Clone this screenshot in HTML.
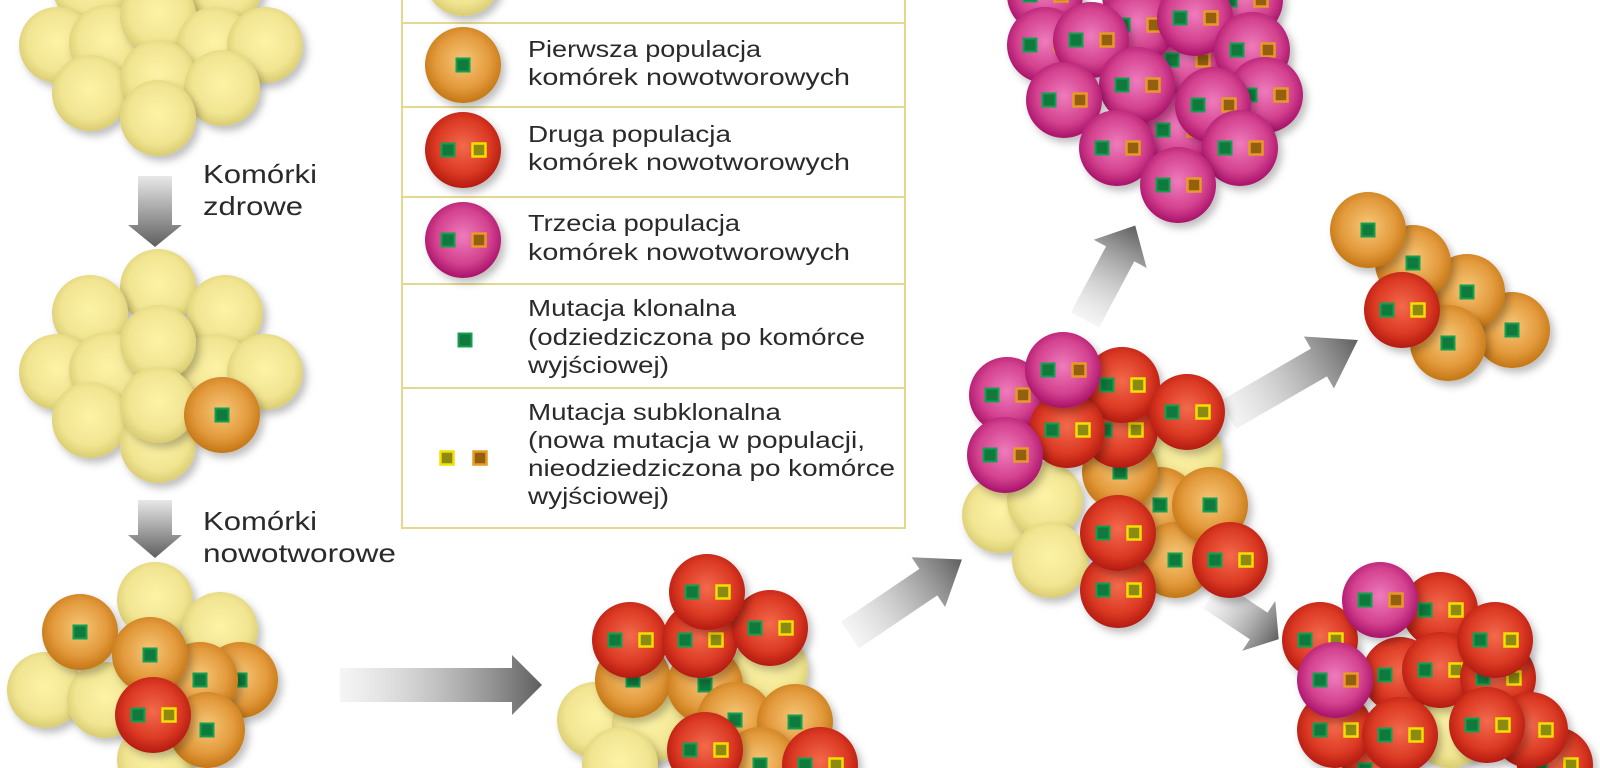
<!DOCTYPE html>
<html><head><meta charset="utf-8"><style>
html,body{margin:0;padding:0;background:#fff;width:1600px;height:768px;overflow:hidden;}
svg{display:block;}
text{font-family:"Liberation Sans",sans-serif;fill:#2a2a2a;}
</style></head><body>
<svg width="1600" height="768" viewBox="0 0 1600 768" xmlns="http://www.w3.org/2000/svg" style="overflow:hidden">
<defs>
<radialGradient id="gY" cx="0.5" cy="0.45" r="0.55"><stop offset="0" stop-color="#fdf3a6"/><stop offset="0.7" stop-color="#f1e592"/><stop offset="1" stop-color="#d9cc72"/></radialGradient>
<radialGradient id="gO" cx="0.5" cy="0.45" r="0.55"><stop offset="0" stop-color="#f7c778"/><stop offset="0.65" stop-color="#e39a3c"/><stop offset="1" stop-color="#c47615"/></radialGradient>
<radialGradient id="gR" cx="0.5" cy="0.45" r="0.55"><stop offset="0" stop-color="#f36a4c"/><stop offset="0.65" stop-color="#dc3a24"/><stop offset="1" stop-color="#b41b10"/></radialGradient>
<radialGradient id="gP" cx="0.5" cy="0.45" r="0.55"><stop offset="0" stop-color="#ee7cbc"/><stop offset="0.65" stop-color="#d4428f"/><stop offset="1" stop-color="#a8126a"/></radialGradient>
<linearGradient id="ga" x1="0" y1="0" x2="1" y2="0"><stop offset="0" stop-color="#e6e6e6" stop-opacity="0.4"/><stop offset="1" stop-color="#5e5e5e"/></linearGradient>
<linearGradient id="gv" x1="0" y1="0" x2="0" y2="1"><stop offset="0" stop-color="#e8e8e8"/><stop offset="1" stop-color="#5e5e5e"/></linearGradient>
<filter id="sh" x="-30%" y="-30%" width="170%" height="170%"><feDropShadow dx="4" dy="5" stdDeviation="4" flood-color="#000" flood-opacity="0.25"/></filter>
<g id="sG"><rect x="-6.5" y="-6.5" width="13" height="13" fill="#0f7a3c" stroke="#12a050" stroke-width="2"/></g>
<g id="sYm"><rect x="-6.5" y="-6.5" width="13" height="13" fill="#8c8a10" stroke="#f3e000" stroke-width="2.5"/></g>
<g id="sOm"><rect x="-6.5" y="-6.5" width="13" height="13" fill="#946010" stroke="#e89a28" stroke-width="2.5"/></g>
<g id="Y"><circle r="38" fill="url(#gY)" filter="url(#sh)"/></g>
<g id="O"><circle r="38" fill="url(#gO)" filter="url(#sh)"/><use href="#sG"/></g>
<g id="R"><circle r="38" fill="url(#gR)" filter="url(#sh)"/><use href="#sG" x="-15"/><use href="#sYm" x="16"/></g>
<g id="P"><circle r="38" fill="url(#gP)" filter="url(#sh)"/><use href="#sG" x="-15"/><use href="#sOm" x="16"/></g>
<g id="arr"><polygon points="0,-16 70,-16 70,-30 100,0 70,30 70,16 0,16" fill="url(#ga)"/></g>
</defs>

<!-- arrows -->
<polygon points="138,176 172,176 172,225 182,225 155,247 128,225 138,225" fill="url(#gv)"/>
<polygon points="138,500 172,500 172,535 182,535 155,558 128,535 138,535" fill="url(#gv)"/>
<polygon points="340,668 512,668 512,655 542,685 512,715 512,702 340,702" fill="url(#ga)"/>
<g transform="translate(850,635) rotate(-34) scale(1.35,1)"><use href="#arr"/></g>
<g transform="translate(1085,320) rotate(-62) scale(1.07,1)"><use href="#arr"/></g>
<g transform="translate(1228,415) rotate(-30) scale(1.5,1)"><use href="#arr"/></g>
<g transform="translate(1212,595) rotate(33.5) scale(0.8,1)"><use href="#arr"/></g>

<!-- cluster 1 (top-left) -->
<use href="#Y" x="158" y="-40"/><use href="#Y" x="90" y="-14"/><use href="#Y" x="225" y="-14"/>
<use href="#Y" x="57" y="45"/><use href="#Y" x="107" y="43"/><use href="#Y" x="158" y="16"/><use href="#Y" x="215" y="45"/><use href="#Y" x="265" y="45"/>
<use href="#Y" x="90" y="93"/><use href="#Y" x="158" y="78"/><use href="#Y" x="222" y="88"/><use href="#Y" x="158" y="118"/>

<!-- cluster 2 -->
<use href="#Y" x="158" y="287"/><use href="#Y" x="90" y="313"/><use href="#Y" x="225" y="313"/>
<use href="#Y" x="57" y="372"/><use href="#Y" x="107" y="370"/><use href="#Y" x="215" y="372"/><use href="#Y" x="265" y="372"/><use href="#Y" x="158" y="343"/>
<use href="#Y" x="90" y="420"/><use href="#Y" x="158" y="445"/><use href="#Y" x="158" y="405"/><use href="#O" x="222" y="415"/>

<!-- cluster 3 -->
<use href="#Y" x="155" y="600"/><use href="#Y" x="220" y="630"/>
<use href="#Y" x="45" y="690"/><use href="#Y" x="105" y="700"/><use href="#Y" x="155" y="760"/>
<use href="#O" x="80" y="632"/><use href="#O" x="240" y="680"/><use href="#O" x="200" y="680"/><use href="#O" x="150" y="655"/>
<use href="#O" x="207" y="730"/><use href="#R" x="153" y="715"/>

<!-- cluster 4 (middle bottom) -->
<use href="#Y" x="770" y="670"/><use href="#Y" x="595" y="720"/><use href="#Y" x="650" y="725"/><use href="#Y" x="620" y="765"/>
<use href="#O" x="633" y="680"/><use href="#O" x="705" y="685"/><use href="#O" x="735" y="720"/><use href="#O" x="795" y="722"/><use href="#O" x="760" y="765"/>
<use href="#R" x="705" y="750"/><use href="#R" x="820" y="765"/>
<use href="#R" x="630" y="640"/><use href="#R" x="700" y="640"/><use href="#R" x="770" y="628"/><use href="#R" x="707" y="592"/>

<!-- cluster 5 (center) -->
<use href="#Y" x="1185" y="455"/><use href="#Y" x="1000" y="515"/><use href="#Y" x="1045" y="500"/><use href="#Y" x="1050" y="560"/>
<use href="#O" x="1160" y="505"/><use href="#O" x="1120" y="472"/><use href="#O" x="1175" y="560"/><use href="#O" x="1210" y="505"/>
<use href="#R" x="1120" y="430"/><use href="#R" x="1122" y="385"/><use href="#R" x="1187" y="412"/>
<use href="#R" x="1118" y="590"/><use href="#R" x="1118" y="533"/><use href="#R" x="1230" y="560"/>
<use href="#P" x="1007" y="395"/><use href="#R" x="1067" y="430"/><use href="#P" x="1005" y="455"/><use href="#P" x="1063" y="370"/>

<!-- cluster 6 (pink top) -->
<use href="#P" x="1045" y="-5"/><use href="#P" x="1245" y="0"/><use href="#P" x="1140" y="-5"/>
<use href="#P" x="1187" y="60"/><use href="#P" x="1178" y="130"/>
<use href="#P" x="1045" y="45"/><use href="#P" x="1138" y="25"/><use href="#P" x="1195" y="18"/><use href="#P" x="1091" y="40"/>
<use href="#P" x="1252" y="50"/><use href="#P" x="1265" y="95"/><use href="#P" x="1137" y="85"/><use href="#P" x="1064" y="100"/>
<use href="#P" x="1213" y="105"/><use href="#P" x="1240" y="148"/><use href="#P" x="1117" y="148"/><use href="#P" x="1178" y="185"/>

<!-- cluster 7 (right orange) -->
<use href="#O" x="1512" y="330"/><use href="#O" x="1467" y="292"/><use href="#O" x="1413" y="263"/><use href="#O" x="1448" y="343"/>
<use href="#R" x="1402" y="310"/><use href="#O" x="1368" y="230"/>

<!-- cluster 8 (bottom right) -->
<use href="#Y" x="1450" y="730"/>
<use href="#R" x="1320" y="640"/><use href="#R" x="1440" y="610"/>
<use href="#R" x="1400" y="675"/><use href="#R" x="1440" y="670"/><use href="#R" x="1498" y="678"/><use href="#R" x="1495" y="640"/>
<use href="#R" x="1380" y="770"/><use href="#R" x="1555" y="765"/>
<use href="#R" x="1335" y="730"/><use href="#R" x="1400" y="735"/><use href="#R" x="1530" y="730"/><use href="#R" x="1487" y="725"/>
<use href="#P" x="1380" y="600"/><use href="#P" x="1335" y="680"/>

<!-- legend -->
<rect x="402" y="-2" width="503" height="530" fill="#fff" stroke="#e3d98e" stroke-width="2"/>
<g stroke="#e3d98e" stroke-width="2">
<line x1="402" y1="23" x2="905" y2="23"/><line x1="402" y1="107" x2="905" y2="107"/>
<line x1="402" y1="197" x2="905" y2="197"/><line x1="402" y1="284" x2="905" y2="284"/>
<line x1="402" y1="388" x2="905" y2="388"/></g>
<use href="#Y" x="463" y="-22"/>
<use href="#O" x="463" y="65"/>
<use href="#R" x="463" y="150"/>
<use href="#P" x="463" y="240"/>
<use href="#sG" x="465" y="340"/>
<use href="#sYm" x="447" y="458"/><use href="#sOm" x="480" y="458"/>
<g font-size="23">
<text x="528" y="57" textLength="233" lengthAdjust="spacingAndGlyphs">Pierwsza populacja</text>
<text x="528" y="85" textLength="322" lengthAdjust="spacingAndGlyphs">komórek nowotworowych</text>
<text x="528" y="142" textLength="203" lengthAdjust="spacingAndGlyphs">Druga populacja</text>
<text x="528" y="170" textLength="322" lengthAdjust="spacingAndGlyphs">komórek nowotworowych</text>
<text x="528" y="231" textLength="212" lengthAdjust="spacingAndGlyphs">Trzecia populacja</text>
<text x="528" y="260" textLength="322" lengthAdjust="spacingAndGlyphs">komórek nowotworowych</text>
<text x="528" y="316" textLength="208" lengthAdjust="spacingAndGlyphs">Mutacja klonalna</text>
<text x="528" y="345" textLength="337" lengthAdjust="spacingAndGlyphs">(odziedziczona po komórce</text>
<text x="528" y="373" textLength="141" lengthAdjust="spacingAndGlyphs">wyjściowej)</text>
<text x="528" y="420" textLength="253" lengthAdjust="spacingAndGlyphs">Mutacja subklonalna</text>
<text x="528" y="448" textLength="337" lengthAdjust="spacingAndGlyphs">(nowa mutacja w populacji,</text>
<text x="528" y="476" textLength="367" lengthAdjust="spacingAndGlyphs">nieodziedziczona po komórce</text>
<text x="528" y="504" textLength="141" lengthAdjust="spacingAndGlyphs">wyjściowej)</text>
</g>
<g font-size="26">
<text x="203" y="183" textLength="114" lengthAdjust="spacingAndGlyphs">Komórki</text>
<text x="203" y="215" textLength="100" lengthAdjust="spacingAndGlyphs">zdrowe</text>
<text x="203" y="530" textLength="114" lengthAdjust="spacingAndGlyphs">Komórki</text>
<text x="203" y="562" textLength="193" lengthAdjust="spacingAndGlyphs">nowotworowe</text>
</g>
</svg>
</body></html>
